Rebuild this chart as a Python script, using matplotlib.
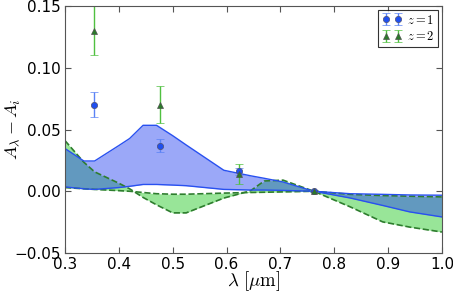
import matplotlib
matplotlib.use("Agg")
import matplotlib.pyplot as plt

plt.rcParams["mathtext.fontset"] = "cm"
plt.rcParams["font.family"] = "DejaVu Sans"

# observed points
lam_obs = [0.354, 0.476, 0.623, 0.762]
z1_val = [0.070, 0.037, 0.016, 0.000]
z1_err = [0.010, 0.005, 0.003, 0.001]
z2_val = [0.130, 0.070, 0.014, 0.000]
z2_err = [0.020, 0.015, 0.008, 0.001]

# model bands
lam = [0.30, 0.335, 0.355, 0.40, 0.42, 0.445, 0.47, 0.50, 0.525, 0.595,
       0.625, 0.645, 0.67, 0.705, 0.762, 0.83, 0.89, 0.94, 1.00]
blue_hi = [0.0346, 0.0245, 0.0245, 0.037, 0.0427, 0.0534, 0.0534, 0.045, 0.0375, 0.017,
           0.0143, 0.0125, 0.0105, 0.0075, 0.0, -0.0055, -0.0115, -0.0167, -0.0208]
blue_lo = [0.0035, 0.002, 0.0015, 0.003, 0.004, 0.0055, 0.0055, 0.005, 0.0045, 0.0015,
           0.0012, 0.001, 0.001, 0.0007, 0.0, -0.002, -0.0025, -0.003, -0.0032]
green_hi = [0.041, 0.0235, 0.0157, 0.0065, 0.002, -0.005, -0.011, -0.0175, -0.0175, -0.0055,
            -0.002, 0.0005, 0.0083, 0.009, 0.0, -0.0127, -0.0248, -0.029, -0.033]
green_lo = [0.003, 0.002, 0.0015, 0.0005, 0.0, -0.001, -0.002, -0.0024, -0.0024, -0.0015,
            -0.0012, -0.001, -0.0008, -0.0005, 0.0, -0.0025, -0.0035, -0.004, -0.0046]

fig = plt.figure(figsize=(4.53, 2.93), dpi=100)
ax = fig.add_axes([0.1435, 0.1365, 0.832, 0.843])

ax.fill_between(lam, green_hi, green_lo, color="#32cd32", alpha=0.5, lw=0)
ax.plot(lam, green_hi, "--", color="#2e7d2e", lw=1.2)
ax.plot(lam, green_lo, "--", color="#2e7d2e", lw=1.2)
ax.fill_between(lam, blue_hi, blue_lo, color="#213ef0", alpha=0.45, lw=0)
ax.plot(lam, blue_hi, "-", color="#2850f0", lw=1.0)
ax.plot(lam, blue_lo, "-", color="#2850f0", lw=1.0)

ax.errorbar(lam_obs, z1_val, yerr=z1_err, fmt="o", color="#1f4ff0", ecolor="#5a82f5",
            mec="#505070", mew=0.5, ms=4.5, capsize=3, elinewidth=1, label=r"$z=1$")
ax.errorbar(lam_obs, z2_val, yerr=z2_err, fmt="^", color="#2a7a2a", ecolor="#50c040",
            mec="#505050", mew=0.5, ms=4.5, capsize=3, elinewidth=1, label=r"$z=2$")

ax.set_xlim(0.3, 1.0)
ax.set_ylim(-0.05, 0.15)
ax.set_xticks([0.3, 0.4, 0.5, 0.6, 0.7, 0.8, 0.9, 1.0])
ax.set_yticks([-0.05, 0.0, 0.05, 0.10, 0.15])
ax.set_yticklabels(["\u22120.05", "0.00", "0.05", "0.10", "0.15"])
ax.tick_params(direction="in", top=True, right=True, labelsize=11, length=4,
               color="#555555", pad=3)
for s in ax.spines.values():
    s.set_color("#555555")

ax.set_xlabel(r"$\lambda\ [\mu{\rm m}]$", fontsize=13.5, labelpad=-2)
ax.set_ylabel(r"$A_\lambda - A_i$", fontsize=13)
ax.yaxis.set_label_coords(-0.115, 0.5)

leg = ax.legend(loc="upper right", numpoints=2, fontsize=9, fancybox=False,
                handlelength=1.6, borderpad=0.3, labelspacing=0.3, handletextpad=0.4,
                borderaxespad=0.3)
leg.get_frame().set_edgecolor("black")
leg.get_frame().set_linewidth(0.8)

fig.savefig("out.png", dpi=100)
